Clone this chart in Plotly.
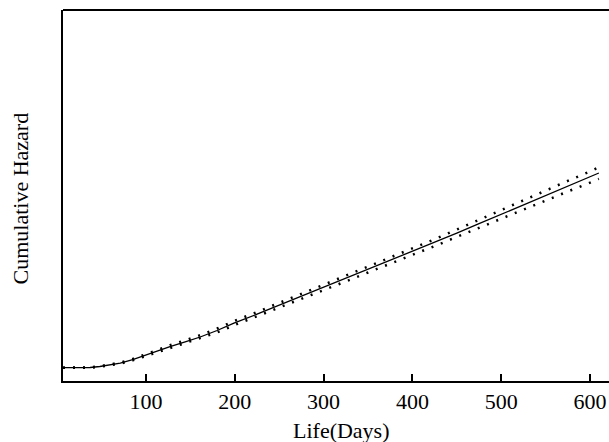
import plotly.graph_objects as go

# Life in days and estimated cumulative hazard
days = [6.5, 20, 37, 48, 60, 71, 85, 100, 115, 127, 145, 161, 180, 199, 225, 250, 273, 299,
        325, 350, 386, 400, 425, 450, 475, 499, 525, 550, 575, 600, 610]
hazard = [0.0, 0.0, 0.002, 0.012, 0.028, 0.046, 0.08, 0.127, 0.17, 0.21, 0.26, 0.307, 0.372,
          0.445, 0.535, 0.625, 0.707, 0.797, 0.89, 0.98, 1.107, 1.16, 1.25, 1.345, 1.44, 1.529,
          1.625, 1.72, 1.815, 1.906, 1.947]
# confidence band half-width
band = [0.0, 0.0, 0.002, 0.003, 0.004, 0.005, 0.007, 0.01, 0.012, 0.014, 0.016, 0.018, 0.02,
        0.021, 0.022, 0.023, 0.024, 0.025, 0.027, 0.028, 0.03, 0.031, 0.034, 0.037, 0.04, 0.043,
        0.046, 0.05, 0.053, 0.056, 0.058]
tick_vals = [100, 200, 300, 400, 500, 600]

upper = [h + b for h, b in zip(hazard, band)]
lower = [h - b for h, b in zip(hazard, band)]

fig = go.Figure()
for yy in (upper, lower):
    fig.add_trace(go.Scatter(x=days, y=yy, mode="lines",
                             line=dict(color="black", width=2.5, dash="2px,8px"),
                             showlegend=False, hoverinfo="skip"))
fig.add_trace(go.Scatter(x=days, y=hazard, mode="lines",
                         line=dict(color="black", width=1.3), showlegend=False))

L, T, B = 63, 10, 381
W, H = 609, 442
PW, PH = W - L, B - T

font = "Liberation Serif, Times New Roman, serif"
fig.update_layout(
    width=W, height=H,
    margin=dict(l=L, r=0, t=T, b=H - B, pad=0),
    paper_bgcolor="white", plot_bgcolor="white",
    font=dict(family=font, size=22, color="black"),
    xaxis=dict(range=[6.5, 621.4], tickvals=tick_vals, ticks="inside", ticklen=7,
               tickwidth=1.5, tickcolor="black", showline=True, linecolor="black",
               linewidth=2, showgrid=False, zeroline=False,
               tickfont=dict(family=font, size=22, color="black")),
    yaxis=dict(range=[-0.133, 3.577], showticklabels=False, ticks="", showline=True,
               linecolor="black", linewidth=2, showgrid=False, zeroline=False),
    shapes=[dict(type="line", xref="paper", yref="paper", x0=0, x1=1, y0=1, y1=1,
                 line=dict(color="black", width=2))],
    annotations=[
        dict(text="Life(Days)", xref="paper", yref="paper", x=(341.4 - 63) / PW,
             y=-(431 - 381) / PH, xanchor="center", yanchor="middle", showarrow=False,
             font=dict(family=font, size=22, color="black")),
        dict(text="Cumulative Hazard", xref="paper", yref="paper", x=-(43) / PW,
             y=(381 - 198.5) / PH, xanchor="center", yanchor="middle", textangle=-90,
             showarrow=False, font=dict(family=font, size=22, color="black")),
    ],
)
fig.write_html("out.html", config={"displayModeBar": False},
               post_script="document.body.style.margin='0';"
                           "document.body.style.overflow='hidden';")
